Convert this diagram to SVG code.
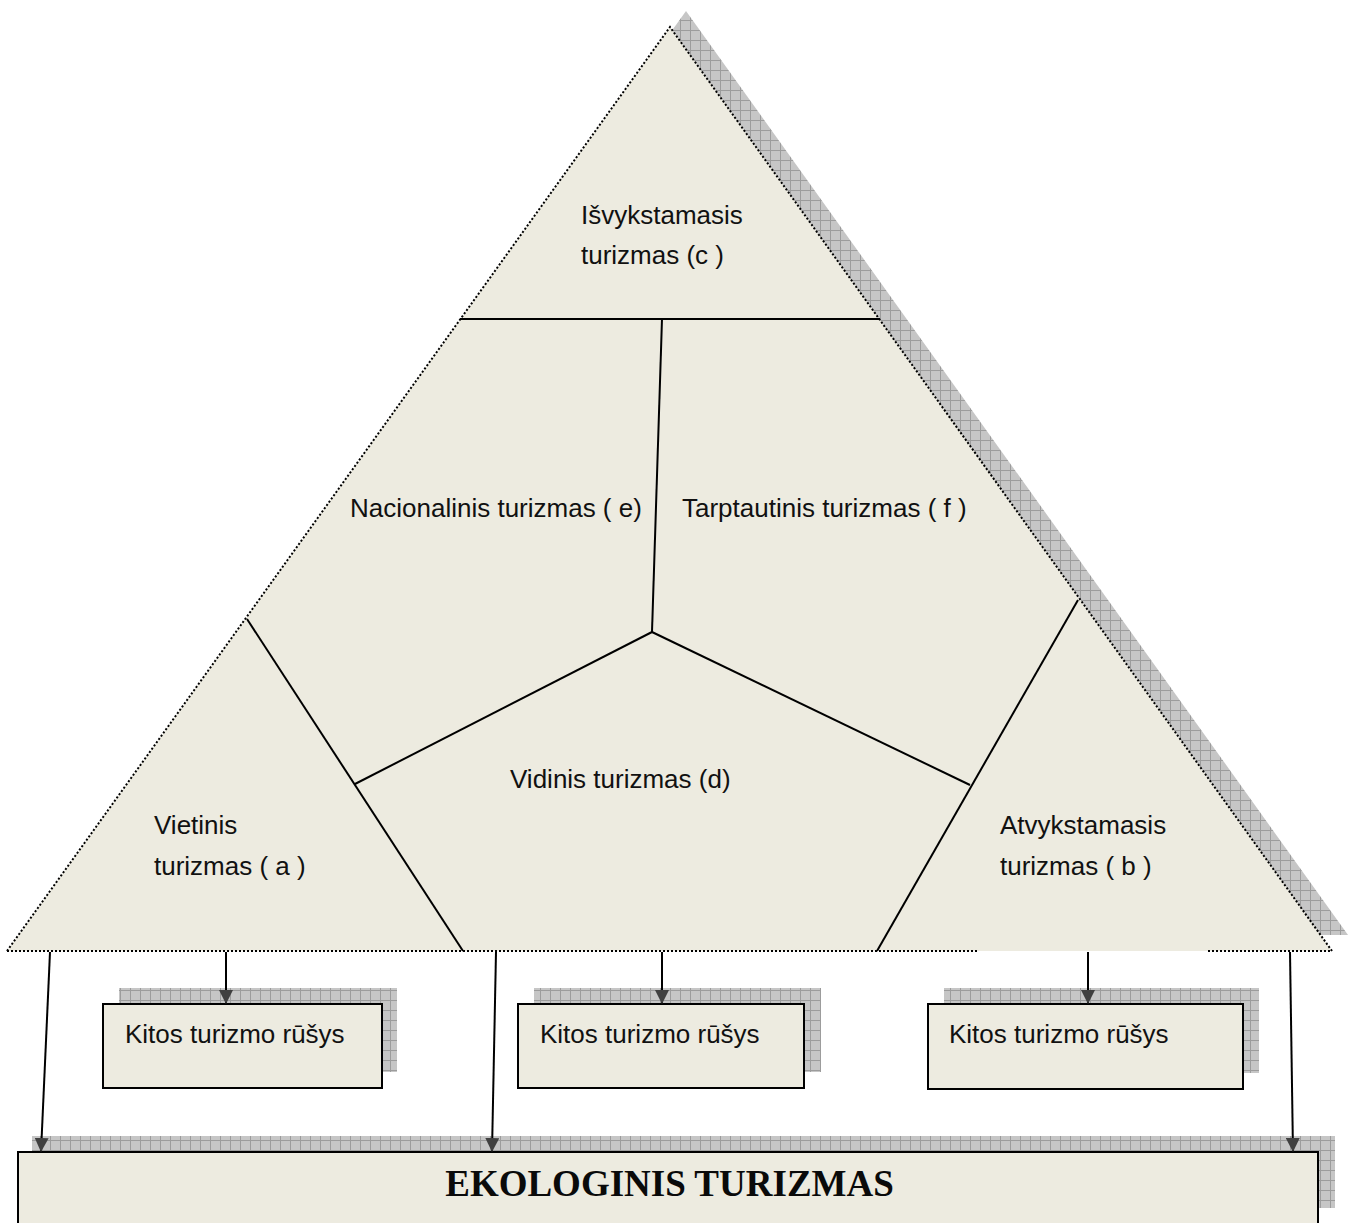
<svg xmlns="http://www.w3.org/2000/svg" width="1355" height="1223" viewBox="0 0 1355 1223">
<style>
.lbl{font-family:"Liberation Sans",Arial,sans-serif;font-size:26px;fill:#111}
.title{font-family:"Liberation Serif","Times New Roman",serif;font-size:37px;font-weight:bold;fill:#0a0a0a}
.fill{fill:#edebe0}
.box{fill:#edebe0;stroke:#000;stroke-width:2}
.shadow{fill:url(#grid);stroke:none}
.div{stroke:#000;stroke-width:2;fill:none}
.dot{stroke:#000;stroke-width:2;stroke-dasharray:2 2;fill:none}
.conn{stroke:#000;stroke-width:2;fill:none;marker-end:url(#arr)}
</style>
<defs>
<pattern id="grid" width="10" height="10" patternUnits="userSpaceOnUse">
<rect width="10" height="10" fill="#c6c6c6"/>
<path d="M0,0.5H10M0.5,0V10" stroke="#9c9c9c" stroke-width="1"/>
</pattern>
<marker id="arr" markerUnits="userSpaceOnUse" markerWidth="14" markerHeight="14" refX="14" refY="7" orient="auto" viewBox="0 0 14 14">
<path d="M0,0L14,7L0,14z" fill="#404040"/>
</marker>
</defs>

<g id="pyramid">
<polygon class="shadow" points="686,11 1348,935 23,935"/>
<polygon class="fill" points="670,27 1332,951 7,951"/>
<path class="dot" d="M7,951L670,27L1332,951"/>
<path class="dot" d="M7,951H978M1208,951H1332"/>
<path class="div" d="M460,319H880"/>
<path class="div" d="M662,319L652,632"/>
<path class="div" d="M652,632L355,784"/>
<path class="div" d="M652,632L970,785"/>
<path class="div" d="M247,619L463,951"/>
<path class="div" d="M1078,600L877,951"/>
</g>

<g id="node-c"><text class="lbl" x="581" y="224">Išvykstamasis</text><text class="lbl" x="581" y="264">turizmas (c )</text></g>
<g id="node-e"><text class="lbl" x="350" y="517">Nacionalinis turizmas ( e)</text></g>
<g id="node-f"><text class="lbl" x="682" y="517">Tarptautinis turizmas ( f )</text></g>
<g id="node-d"><text class="lbl" x="510" y="788">Vidinis turizmas (d)</text></g>
<g id="node-a"><text class="lbl" x="154" y="834">Vietinis</text><text class="lbl" x="154" y="875">turizmas ( a )</text></g>
<g id="node-b"><text class="lbl" x="1000" y="834">Atvykstamasis</text><text class="lbl" x="1000" y="875">turizmas ( b )</text></g>

<g id="kitos-1">
<rect class="shadow" x="119" y="988" width="278" height="84"/>
<rect class="box" x="103" y="1004" width="279" height="84"/>
<text class="lbl" x="125" y="1043">Kitos turizmo rūšys</text>
</g>
<g id="kitos-2">
<rect class="shadow" x="534" y="988" width="287" height="84"/>
<rect class="box" x="518" y="1004" width="286" height="84"/>
<text class="lbl" x="540" y="1043">Kitos turizmo rūšys</text>
</g>
<g id="kitos-3">
<rect class="shadow" x="944" y="988" width="315" height="85"/>
<rect class="box" x="928" y="1004" width="315" height="85"/>
<text class="lbl" x="949" y="1043">Kitos turizmo rūšys</text>
</g>

<g id="ekologinis">
<rect class="shadow" x="32" y="1136" width="1303" height="72"/>
<rect class="box" x="18" y="1152" width="1300" height="90"/>
<text class="title" x="669.5" y="1196" text-anchor="middle">EKOLOGINIS TURIZMAS</text>
</g>

<g id="connectors">
<path class="conn" d="M50,952L41,1152"/>
<path class="conn" d="M226,952V1004"/>
<path class="conn" d="M496,952L492,1152"/>
<path class="conn" d="M662,952V1004"/>
<path class="conn" d="M1088,952V1004"/>
<path class="conn" d="M1290,952L1293,1152"/>
</g>
</svg>
